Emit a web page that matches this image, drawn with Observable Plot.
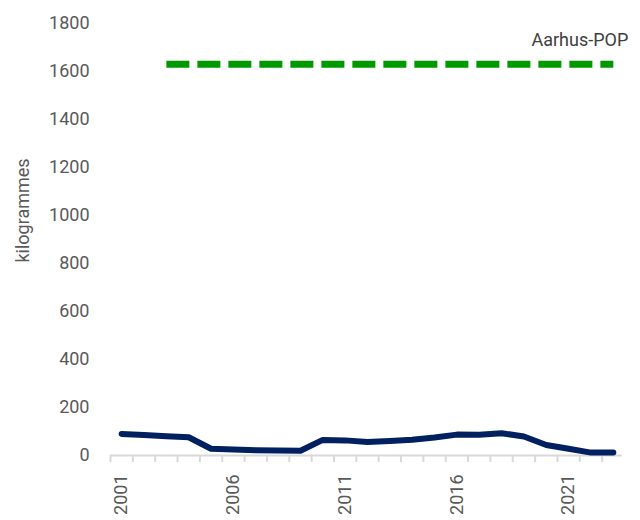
<!DOCTYPE html>
<html><head><meta charset="utf-8">
<script src="https://cdn.jsdelivr.net/npm/d3@7"></script>
<script src="https://cdn.jsdelivr.net/npm/@observablehq/plot@0.6"></script>
<style>body{margin:0;background:#fff;font-family:Roboto,sans-serif;}</style>
</head><body><div id="chart"></div>
<script>
const years = d3.range(2001, 2024);
const values = [90, 85, 80, 76, 28, 25, 22, 21, 20, 65, 63, 56, 60, 66, 75, 87, 86, 93, 79, 44, 28, 12, 12];
const limitYears = [2003, 2023];
const limitValue = 1630;
const limitLabel = "Aarhus-POP";
const yTicks = d3.range(0, 1801, 200);
const xLabelYears = [2001, 2006, 2011, 2016, 2021];
const yTitle = "kilogrammes";

const series = years.map((y, i) => ({year: y, value: values[i]}));
const limit = limitYears.map(y => ({year: y, value: limitValue}));
const bounds = d3.range(2000.5, 2023, 1);

const chart = Plot.plot({
  width: 640, height: 520,
  marginLeft: 110, marginRight: 16, marginTop: 23, marginBottom: 65,
  style: {fontFamily: "Roboto, sans-serif", fontSize: "18px", color: "#595959", background: "#fff"},
  x: {domain: [2000.5, 2023.5]},
  y: {domain: [0, 1800]},
  marks: [
    Plot.axisY({ticks: yTicks, tickSize: 0, tickPadding: 21, tickFormat: d => String(d), label: null, fill: "#595959", fontSize: 18}),
    Plot.axisX({ticks: bounds, tickSize: 7, tickFormat: () => "", stroke: "#d9d9d9", strokeWidth: 2, label: null}),
    Plot.axisX({ticks: xLabelYears, tickSize: 0, tickFormat: d => String(d), tickRotate: -90, tickPadding: 19, label: null, fill: "#595959", fontSize: 18}),
    Plot.ruleY([0], {stroke: "#d9d9d9", strokeWidth: 2, x1: 2000.5, x2: 2023.4}),
    Plot.text([yTitle], {frameAnchor: "left", textAnchor: "middle", dx: -87, dy: -29, rotate: -90, fill: "#595959", fontSize: 18}),
    Plot.line(limit, {x: "year", y: "value", stroke: "#009900", strokeWidth: 7, strokeDasharray: "23,8", strokeLinecap: "butt"}),
    Plot.text([limit[1]], {x: "year", y: "value", text: () => limitLabel, textAnchor: "end", dx: 15, dy: -24, fill: "#404040", fontSize: 18}),
    Plot.line(series, {x: "year", y: "value", stroke: "#002060", strokeWidth: 6, strokeLinecap: "round", strokeLinejoin: "round"})
  ]
});
document.getElementById("chart").appendChild(chart);
</script></body></html>
